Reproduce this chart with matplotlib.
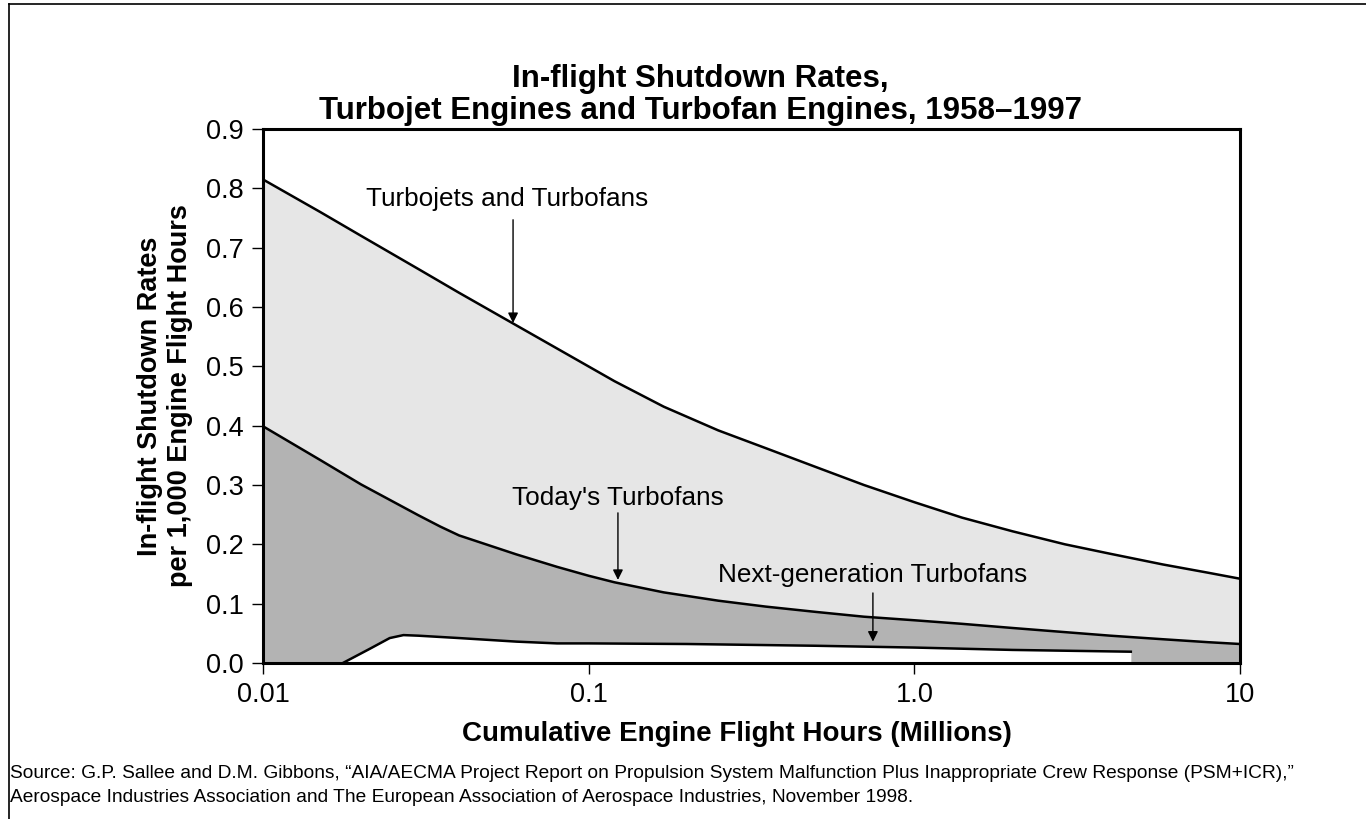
import matplotlib
matplotlib.use('Agg')
import matplotlib.pyplot as plt
from matplotlib.lines import Line2D
from matplotlib.ticker import FixedLocator, NullLocator

plt.rcParams['font.family'] = ['Liberation Sans', 'DejaVu Sans']

# curves (x = millions of engine flight hours)
jet_x = [0.01, 0.015, 0.02, 0.03, 0.04, 0.06, 0.08, 0.12, 0.17, 0.25, 0.35, 0.5, 0.7,
         1.0, 1.4, 2.0, 2.9, 4.0, 5.8, 8.0, 10]
jet_y = [0.815, 0.760, 0.720, 0.664, 0.624, 0.569, 0.530, 0.475, 0.432, 0.392, 0.362, 0.330, 0.300,
         0.271, 0.245, 0.222, 0.200, 0.184, 0.166, 0.152, 0.142]

fan_x = [0.01, 0.015, 0.02, 0.03, 0.035, 0.04, 0.06, 0.08, 0.1, 0.12, 0.17, 0.25, 0.35, 0.5, 0.7,
         1.0, 1.4, 2.0, 2.9, 4.0, 5.8, 8.0, 10]
fan_y = [0.399, 0.342, 0.301, 0.249, 0.230, 0.215, 0.183, 0.162, 0.147, 0.136, 0.119, 0.105, 0.095, 0.086, 0.078,
         0.072, 0.066, 0.059, 0.052, 0.046, 0.040, 0.035, 0.032]

next_x = [0.0176, 0.0213, 0.0245, 0.027, 0.03, 0.04, 0.06, 0.08, 0.1, 0.2, 0.5, 1.0, 2.0, 4.62]
next_y = [0.0, 0.024, 0.042, 0.047, 0.046, 0.042, 0.036, 0.033, 0.033, 0.032, 0.029, 0.026, 0.022, 0.019]

x_ticks = [0.01, 0.1, 1.0, 10]
x_tick_labels = ['0.01', '0.1', '1.0', '10']
y_ticks = [0.0, 0.1, 0.2, 0.3, 0.4, 0.5, 0.6, 0.7, 0.8, 0.9]

fig = plt.figure(figsize=(13.66, 8.19), dpi=100)
ax = fig.add_axes([0.1925, 0.1905, 0.7153, 0.652])

ax.fill_between(jet_x, 0, jet_y, color='#e6e6e6', lw=0)
ax.fill_between(fan_x, 0, fan_y, color='#b3b3b3', lw=0)
ax.fill_between(next_x, 0, next_y, color='white', lw=0)

ax.plot(jet_x, jet_y, color='black', lw=1.8, solid_joinstyle='round')
ax.plot(fan_x, fan_y, color='black', lw=1.8, solid_joinstyle='round')
ax.plot(next_x, next_y, color='black', lw=1.8, solid_joinstyle='round')

ax.set_xscale('log')
ax.set_xlim(0.01, 10)
ax.set_ylim(0, 0.9)
ax.xaxis.set_major_locator(FixedLocator(x_ticks))
ax.xaxis.set_minor_locator(NullLocator())
ax.set_xticklabels(x_tick_labels)
ax.set_yticks(y_ticks)
ax.set_yticklabels(['%.1f' % v for v in y_ticks])
ax.tick_params(direction='out', length=8, width=1, labelsize=19.5, pad=6)

for s in ax.spines.values():
    s.set_linewidth(2.2)

ax.set_xlabel('Cumulative Engine Flight Hours (Millions)', fontsize=20, fontweight='bold')
ax.xaxis.set_label_coords(0.485, -0.108)
ax.set_ylabel('In-flight Shutdown Rates\nper 1,000 Engine Flight Hours', fontsize=19.5,
              fontweight='bold', linespacing=1.2)
ax.yaxis.set_label_coords(-0.072, 0.5)

fig.text(0.513, 0.884, 'In-flight Shutdown Rates,\nTurbojet Engines and Turbofan Engines, 1958\u20131997',
         ha='center', va='center', fontsize=22.5, fontweight='bold', linespacing=1.1)

# curve labels with arrows
ax.text(0.0563, 0.782, 'Turbojets and Turbofans', ha='center', va='center', fontsize=18.8)
ax.annotate('', xy=(0.0586, 0.573), xytext=(0.0586, 0.747),
            arrowprops=dict(arrowstyle='-|>', color='black', lw=1, shrinkA=0, shrinkB=0, mutation_scale=15))

ax.text(0.123, 0.278, "Today's Turbofans", ha='center', va='center', fontsize=18.8)
ax.annotate('', xy=(0.123, 0.140), xytext=(0.123, 0.253),
            arrowprops=dict(arrowstyle='-|>', color='black', lw=1, shrinkA=0, shrinkB=0, mutation_scale=15))

ax.text(0.746, 0.148, 'Next-generation Turbofans', ha='center', va='center', fontsize=18.8)
ax.annotate('', xy=(0.746, 0.036), xytext=(0.746, 0.118),
            arrowprops=dict(arrowstyle='-|>', color='black', lw=1, shrinkA=0, shrinkB=0, mutation_scale=15))

fig.text(0.0075, 0.0405, 'Source: G.P. Sallee and D.M. Gibbons, \u201cAIA/AECMA Project Report on Propulsion System '
         'Malfunction Plus Inappropriate Crew Response (PSM+ICR),\u201d\nAerospace Industries Association and '
         'The European Association of Aerospace Industries, November 1998.',
         ha='left', va='center', fontsize=13.75, linespacing=1.55)

# frame lines at top and left of the figure
fig.add_artist(Line2D([0.0066, 1.0], [0.995, 0.995], transform=fig.transFigure, color='black', lw=1.2))
fig.add_artist(Line2D([0.0066, 0.0066], [0.0, 0.995], transform=fig.transFigure, color='black', lw=1.2))

fig.savefig('out.png', dpi=100)
